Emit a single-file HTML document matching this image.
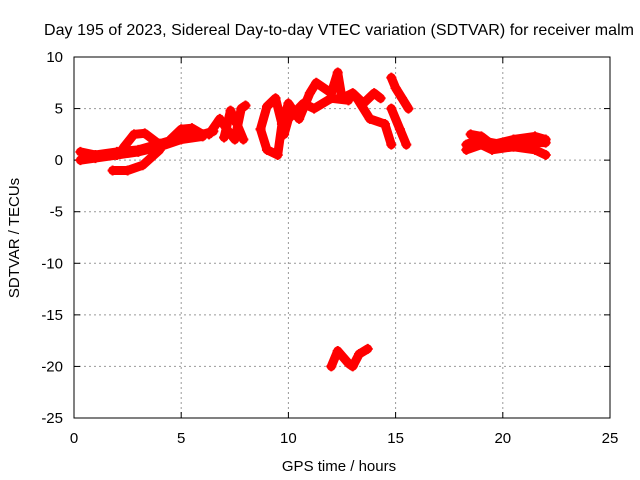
<!DOCTYPE html>
<html><head><meta charset="utf-8"><style>
body{margin:0;background:#fff}
svg{display:block;font-family:"Liberation Sans",sans-serif;font-size:15px}
</style></head><body>
<svg id="c" width="640" height="480">
<text x="339" y="35" text-anchor="middle" font-size="16" textLength="590">Day 195 of 2023, Sidereal Day-to-day VTEC variation (SDTVAR) for receiver malm</text>
<text x="339" y="471" text-anchor="middle">GPS time / hours</text>
<text transform="translate(19,238) rotate(-90)" text-anchor="middle">SDTVAR / TECUs</text>
<g id="grid"></g><g id="ticks"></g><g id="data"></g>
<rect x="74" y="57" width="536" height="361" fill="none" stroke="#000"/>
</svg>
<script>
const xTicks=[0,5,10,15,20,25];
const yTicks=[10,5,0,-5,-10,-15,-20,-25];
const trackA=[[0.3,0.8],[1,0.5],[2,0.8],[3,1],[4,1.6],[5,2.2],[6,2.5],[6.5,2.8]];
const trackB=[[0.3,0],[1,0.2],[2,0.5],[3,0.8],[4,1.3],[5,2],[6,2.3]];
const trackC=[[2.3,1.2],[2.8,2.5],[3.3,2.6],[4,1.5]];
const trackD=[[1.8,-1],[2.5,-1],[3.2,-0.5],[4,1]];
const trackE=[[4.5,2],[5,3],[5.5,3.1],[6,2.5]];
const trackF=[[6.3,2.5],[6.8,4],[7.2,2.8],[7.5,2],[7.8,5],[8,5.3]];
const trackG=[[7,2.2],[7.3,4.8],[7.6,3.5],[7.9,2]];
const trackH=[[8.7,3],[9,5.2],[9.4,6],[9.7,3.5],[9.5,0.5],[9,1],[8.7,3]];
const trackI=[[9.7,3.5],[10,5.5],[10.5,4],[11,6.5],[11.3,7.5],[12,6.5],[12.3,8.5],[12.5,6],[13,6.5],[13.5,5.5],[14,6.5],[14.3,6]];
const trackJ=[[9.8,2.5],[10,4],[10.7,5.5],[11.2,5],[12,6],[12.8,5.8]];
const trackK=[[13.2,6],[13.8,4],[14.5,3.5],[14.8,1.5]];
const trackL=[[14.8,8],[15,7],[15.3,6],[15.6,5]];
const trackM=[[14.8,5],[15.2,3],[15.5,1.5]];
const trackN=[[12,-20],[12.3,-18.5],[12.8,-19.7],[13,-20],[13.3,-18.8],[13.7,-18.3]];
const trackO=[[18.3,1.5],[18.8,2],[19.2,1.8],[20,1.5],[21,1.7],[22,1.7]];
const trackP=[[18.3,1],[19,1.5],[19.5,1],[20.5,1.3],[21.5,1],[22,0.5]];
const trackQ=[[18.5,2.5],[19,2.3],[19.5,1.5],[20.5,2],[21.5,2.3],[22,2]];
const tracks=[trackA,trackB,trackC,trackD,trackE,trackF,trackG,trackH,trackI,trackJ,trackK,trackL,trackM,trackN,trackO,trackP,trackQ];
const X=v=>74+v*536/25, Y=v=>57+(10-v)*361/35;
const NS='http://www.w3.org/2000/svg';
const g=document.getElementById('grid'),t=document.getElementById('ticks'),d=document.getElementById('data');
function mk(p,tag,a){const e=document.createElementNS(NS,tag);for(const k in a)e.setAttribute(k,a[k]);p.appendChild(e);return e;}
xTicks.forEach(v=>{
 if(v>0&&v<25){const l=mk(g,'line',{x1:X(v),x2:X(v),y1:57,y2:418,stroke:'#999','stroke-dasharray':'2,3'});
 
 }
 mk(t,'line',{x1:X(v),x2:X(v),y1:418,y2:412,stroke:'#000'});mk(t,'line',{x1:X(v),x2:X(v),y1:57,y2:63,stroke:'#000'});
 const s=mk(t,'text',{x:X(v),y:443,'text-anchor':'middle'});s.textContent=v;
 
 
});
yTicks.forEach(v=>{
 if(v<10&&v>-25){const l=mk(g,'line',{x1:74,x2:610,y1:Y(v),y2:Y(v),stroke:'#999','stroke-dasharray':'2,3'});
 
 }
 mk(t,'line',{x1:74,x2:80,y1:Y(v),y2:Y(v),stroke:'#000'});mk(t,'line',{x1:604,x2:610,y1:Y(v),y2:Y(v),stroke:'#000'});
 const s=mk(t,'text',{x:63,y:Y(v)+5,'text-anchor':'end'});s.textContent=v;
 
 
});
tracks.forEach(tr=>{
 const p=mk(d,'polyline',{points:tr.map(q=>X(q[0])+','+Y(q[1])).join(' '),fill:'none',stroke:'#f00','stroke-width':9,'stroke-linejoin':'round','stroke-linecap':'round'});
 
 
 tr.forEach(q=>{const m=mk(d,'path',{d:`M${X(q[0])-5},${Y(q[1])}h10M${X(q[0])},${Y(q[1])-5}v10`,stroke:'#f00','stroke-width':2});
 
 });
});
</script>
</body></html>
